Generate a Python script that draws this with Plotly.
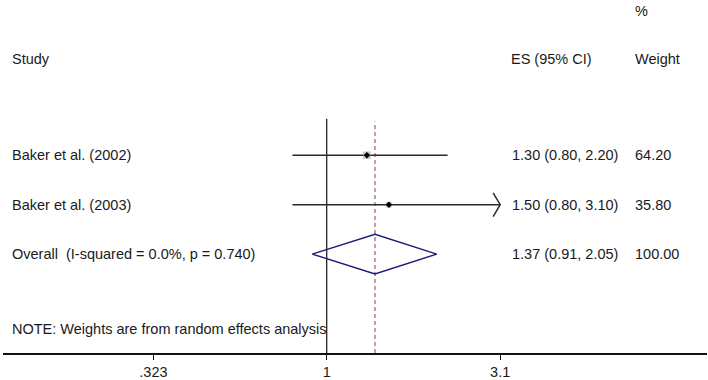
import numpy as np
import plotly.graph_objects as go

# ---- data ----
studies = ["Baker et al. (2002)", "Baker et al. (2003)"]
es = [1.30, 1.50]
ci_lo = [0.80, 0.80]
ci_hi = [2.20, 3.10]
weights = [64.20, 35.80]

overall_label = "Overall  (I-squared = 0.0%, p = 0.740)"
overall_es = 1.37
overall_lo = 0.91
overall_hi = 2.05
overall_weight = 100.00

tick_vals = [0.323, 1, 3.1]
tick_text = [".323", "1", "3.1"]
note = "NOTE: Weights are from random effects analysis"

# ---- layout helpers (row positions in plot units) ----
W, H = 708, 380
ML, MR, MT, MB = 3, 1, 0, 23
plot_h = H - MT - MB
ROW = 50.0
def ypix(p):  # pixel row -> data y
    return (H - MB - p) / ROW

study_rows = [ypix(157), ypix(207)]
overall_row = ypix(257)
x_lo_log = -0.917
x_hi_log = 1.0773
axis_max = max(tick_vals)

FONT = "Liberation Sans, Arial, Helvetica, sans-serif"
TXT = "#1a1a1a"
FS = 14.5

fig = go.Figure()

# reference line at 1
fig.add_trace(go.Scatter(x=[1, 1], y=[0, ypix(120)], mode="lines",
                         line=dict(color="#111111", width=1.2), hoverinfo="skip"))
# overall dashed line
fig.add_trace(go.Scatter(x=[overall_es, overall_es], y=[0, ypix(123)], mode="lines",
                         line=dict(color="#b57f7f", width=1.5, dash="4px,3px"), hoverinfo="skip"))

# CI lines + arrows
for i in range(len(studies)):
    hi = min(ci_hi[i], axis_max)
    y = study_rows[i]
    fig.add_trace(go.Scatter(x=[ci_lo[i], hi], y=[y, y], mode="lines",
                             line=dict(color="#2a2a2a", width=1.5), hoverinfo="skip"))
    if ci_hi[i] >= axis_max:
        back = hi / 10 ** (7 / 353)
        fig.add_trace(go.Scatter(x=[back, hi, back], y=[y + 12 / ROW, y, y - 12 / ROW],
                                 mode="lines", line=dict(color="#2a2a2a", width=1.5),
                                 hoverinfo="skip"))

# weight boxes
box_sizes = [np.sqrt(w / 100) * 9.5 for w in weights]
fig.add_trace(go.Scatter(x=es, y=study_rows, mode="markers",
                         marker=dict(symbol="square", size=box_sizes, color="#b0b0b0",
                                     line=dict(width=0)), hoverinfo="skip"))
# point estimates
fig.add_trace(go.Scatter(x=es, y=study_rows, mode="markers",
                         marker=dict(symbol="diamond", size=5, color="#000000",
                                     line=dict(width=0)), hoverinfo="skip"))

# overall diamond
dh = 20 / ROW
fig.add_trace(go.Scatter(x=[overall_lo, overall_es, overall_hi, overall_es, overall_lo],
                         y=[overall_row, overall_row + dh, overall_row, overall_row - dh, overall_row],
                         mode="lines", line=dict(color="#1c1c7a", width=1.5), hoverinfo="skip"))

# ---- text columns ----
def px2paper(px):
    return (px - ML) / (W - ML - MR)

ann = []
def add_text(text, xpx, y):
    ann.append(dict(text=text, x=px2paper(xpx), xref="paper", y=y, yref="y",
                    xanchor="left", yanchor="middle", showarrow=False,
                    font=dict(family=FONT, size=FS, color=TXT)))

add_text("%", 633, ypix(11))
add_text("Study", 10, ypix(60))
add_text("ES (95% CI)", 509, ypix(60))
add_text("Weight", 633, ypix(60))
for i, s in enumerate(studies):
    add_text(s, 10, study_rows[i])
    add_text(f"{es[i]:.2f} ({ci_lo[i]:.2f}, {ci_hi[i]:.2f})", 510, study_rows[i])
    add_text(f"{weights[i]:.2f}", 633, study_rows[i])
add_text(overall_label, 10, overall_row)
add_text(f"{overall_es:.2f} ({overall_lo:.2f}, {overall_hi:.2f})", 510, overall_row)
add_text(f"{overall_weight:.2f}", 633, overall_row)
add_text(note, 10, ypix(333))

fig.update_layout(
    width=W, height=H,
    margin=dict(l=ML, r=MR, t=MT, b=MB, pad=0),
    paper_bgcolor="white", plot_bgcolor="white",
    showlegend=False,
    annotations=ann,
    xaxis=dict(type="log", range=[x_lo_log, x_hi_log], showgrid=False, zeroline=False,
               showline=True, linecolor="#111111", linewidth=1.5,
               tickmode="array", tickvals=tick_vals, ticktext=tick_text,
               ticks="outside", ticklen=5, tickwidth=1, tickcolor="#111111",
               tickfont=dict(family=FONT, size=FS, color=TXT), fixedrange=True),
    yaxis=dict(range=[0, plot_h / ROW], visible=False, showgrid=False, zeroline=False,
               fixedrange=True),
)

fig.write_html("out.html", config={"displayModeBar": False},
               post_script="document.body.style.margin='0';document.body.style.overflow='hidden';")
